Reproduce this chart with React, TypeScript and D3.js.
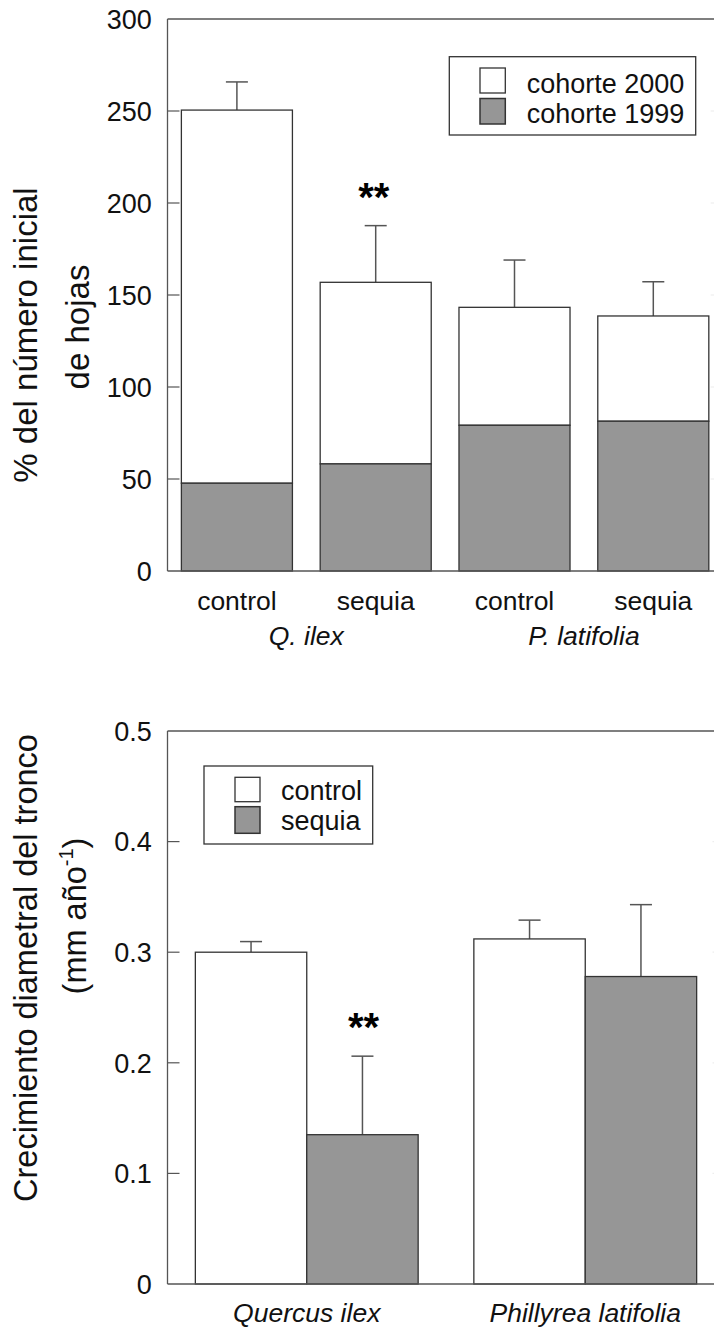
import React from 'react';
import * as d3 from 'd3';

// ---------- Data: top chart ----------
const topTreatments = ['control', 'sequia', 'control', 'sequia'];
const topSpecies = ['Q. ilex', 'P. latifolia'];
const cohorte1999 = [47.7, 58.2, 79.2, 81.4];
const cohorte2000 = [202.8, 98.7, 64.1, 57.2];
const topTotalSE = [15.3, 30.8, 25.7, 18.6];
const topTicks = [0, 50, 100, 150, 200, 250, 300];
const topSignif = ['', '**', '', ''];

// ---------- Data: bottom chart ----------
const bottomSpecies = ['Quercus ilex', 'Phillyrea latifolia'];
const bottomTreatments = ['control', 'sequia'];
const controlGrowth = [0.300, 0.312];
const sequiaGrowth = [0.135, 0.278];
const controlSE = [0.0096, 0.017];
const sequiaSE = [0.071, 0.065];
const bottomTicks = [0, 0.1, 0.2, 0.3, 0.4, 0.5];
const bottomSignif = ['**', ''];

const FONT = '"Liberation Sans", Arial, Helvetica, sans-serif';
const AXIS = '#555';
const BAR_STROKE = '#333';
const GRAY = '#969696';

export default function App() {
  const W = 714, H = 1327;

  // Top chart scales
  const tLeft = 167.5, tRight = 722.7, tTop = 19, tBottom = 571;
  const yT = d3.scaleLinear().domain([0, 300]).range([tBottom, tTop]);
  const xT = d3.scaleBand<number>().domain(d3.range(4)).range([tLeft, tRight]).paddingInner(0.2).paddingOuter(0.1);

  // Bottom chart scales
  const bLeft = 167.5, bRight = 724.5, bTop = 731, bBottom = 1284;
  const yB = d3.scaleLinear().domain([0, 0.5]).range([bBottom, bTop]);
  const xB = d3.scaleBand<number>().domain(d3.range(2)).range([bLeft, bRight]).paddingInner(0.2).paddingOuter(0.1);
  const xSub = d3.scaleBand<string>().domain(bottomTreatments).range([0, xB.bandwidth()]).padding(0);

  const cap = 11;
  const tickLen = 12;

  const bottomVals = [controlGrowth, sequiaGrowth];
  const bottomSEs = [controlSE, sequiaSE];

  return (
    <svg width={W} height={H} style={{ position: 'absolute', left: 0, top: 0, background: '#fff' }} fontFamily={FONT}>
      <rect x={0} y={0} width={W} height={H} fill="#fff" />

      {/* ===== TOP CHART ===== */}
      {topTreatments.map((t, i) => {
        const x0 = xT(i)!;
        const bw = xT.bandwidth();
        const total = cohorte1999[i] + cohorte2000[i];
        const cx = x0 + bw / 2;
        return (
          <g key={'tb' + i}>
            <line x1={cx} x2={cx} y1={yT(total)} y2={yT(total + topTotalSE[i])} stroke={AXIS} strokeWidth={1.5} />
            <line x1={cx - cap} x2={cx + cap} y1={yT(total + topTotalSE[i])} y2={yT(total + topTotalSE[i])} stroke={AXIS} strokeWidth={1.5} />
            <rect x={x0} y={yT(total)} width={bw} height={yT(cohorte1999[i]) - yT(total)} fill="#fff" stroke={BAR_STROKE} strokeWidth={1.3} />
            <rect x={x0} y={yT(cohorte1999[i])} width={bw} height={yT(0) - yT(cohorte1999[i])} fill={GRAY} stroke={BAR_STROKE} strokeWidth={1.3} />
            {topSignif[i] && (
              <text x={cx - 2} y={yT(total + topTotalSE[i]) - 15} textAnchor="middle" fontSize={40} fontWeight="bold" fill="#000">{topSignif[i]}</text>
            )}
            <text x={cx} y={610} textAnchor="middle" fontSize={26.5} fill="#111">{t}</text>
          </g>
        );
      })}
      {topSpecies.map((s, g) => {
        const cx = (xT(g * 2)! + xT(g * 2 + 1)! + xT.bandwidth()) / 2;
        return <text key={'ts' + g} x={cx} y={645} textAnchor="middle" fontSize={26.5} fontStyle="italic" fill="#111">{s}</text>;
      })}
      {/* frame */}
      <line x1={tLeft} x2={tRight} y1={tTop} y2={tTop} stroke={AXIS} strokeWidth={1.3} />
      <line x1={tLeft} x2={tRight} y1={tBottom} y2={tBottom} stroke={AXIS} strokeWidth={1.3} />
      <line x1={tLeft} x2={tLeft} y1={tTop} y2={tBottom} stroke={AXIS} strokeWidth={1.3} />
      <line x1={tRight} x2={tRight} y1={tTop} y2={tBottom} stroke={AXIS} strokeWidth={1.3} />
      {topTicks.map((v) => (
        <g key={'tt' + v}>
          {v !== 0 && v !== 300 && (
            <>
              <line x1={tLeft} x2={tLeft + tickLen} y1={yT(v)} y2={yT(v)} stroke={AXIS} strokeWidth={1.2} />
              <line x1={tRight} x2={tRight - tickLen} y1={yT(v)} y2={yT(v)} stroke="#eee" strokeWidth={1.2} />
            </>
          )}
          <text x={151.7} y={yT(v)} dy="0.36em" textAnchor="end" fontSize={27} fill="#111">{v}</text>
        </g>
      ))}
      {/* legend */}
      <rect x={449.3} y={56.7} width={246.4} height={78.3} fill="#fff" stroke={BAR_STROKE} strokeWidth={1.3} />
      <rect x={480} y={68} width={25.3} height={25} fill="#fff" stroke={BAR_STROKE} strokeWidth={1.3} />
      <rect x={480} y={98.5} width={25.3} height={25.5} fill={GRAY} stroke={BAR_STROKE} strokeWidth={1.5} />
      <text x={526.7} y={92.7} fontSize={27} fill="#111">cohorte 2000</text>
      <text x={526.7} y={122.7} fontSize={27} fill="#111">cohorte 1999</text>
      {/* y label */}
      <text transform="translate(37,335) rotate(-90)" textAnchor="middle" fontSize={33} fill="#111">% del número inicial</text>
      <text transform="translate(89,327) rotate(-90)" textAnchor="middle" fontSize={33} fill="#111">de hojas</text>

      {/* ===== BOTTOM CHART ===== */}
      {bottomSpecies.map((s, g) => {
        const gx = xB(g)!;
        return (
          <g key={'bg' + g}>
            {bottomTreatments.map((t, k) => {
              const v = bottomVals[k][g];
              const se = bottomSEs[k][g];
              const x0 = gx + xSub(t)!;
              const bw = xSub.bandwidth();
              const cx = x0 + bw / 2;
              return (
                <g key={'bb' + k}>
                  <line x1={cx} x2={cx} y1={yB(v)} y2={yB(v + se)} stroke={AXIS} strokeWidth={1.5} />
                  <line x1={cx - cap} x2={cx + cap} y1={yB(v + se)} y2={yB(v + se)} stroke={AXIS} strokeWidth={1.5} />
                  <rect x={x0} y={yB(v)} width={bw} height={yB(0) - yB(v)} fill={k === 0 ? '#fff' : GRAY} stroke={BAR_STROKE} strokeWidth={1.3} />
                  {k === 1 && bottomSignif[g] && (
                    <text x={cx + 1} y={yB(v + se) - 15} textAnchor="middle" fontSize={40} fontWeight="bold" fill="#000">{bottomSignif[g]}</text>
                  )}
                </g>
              );
            })}
            <text x={gx + xB.bandwidth() / 2} y={1321.7} textAnchor="middle" fontSize={26.5} fontStyle="italic" fill="#111">{s}</text>
          </g>
        );
      })}
      <line x1={bLeft} x2={bRight} y1={bTop} y2={bTop} stroke={AXIS} strokeWidth={1.3} />
      <line x1={bLeft} x2={bRight} y1={bBottom} y2={bBottom} stroke={AXIS} strokeWidth={1.3} />
      <line x1={bLeft} x2={bLeft} y1={bTop} y2={bBottom} stroke={AXIS} strokeWidth={1.3} />
      <line x1={bRight} x2={bRight} y1={bTop} y2={bBottom} stroke={AXIS} strokeWidth={1.3} />
      {bottomTicks.map((v, i) => (
        <g key={'bt' + i}>
          {i !== 0 && i !== bottomTicks.length - 1 && (
            <>
              <line x1={bLeft} x2={bLeft + tickLen} y1={yB(v)} y2={yB(v)} stroke={AXIS} strokeWidth={1.2} />
              <line x1={bRight} x2={bRight - tickLen} y1={yB(v)} y2={yB(v)} stroke="#eee" strokeWidth={1.2} />
            </>
          )}
          <text x={151.7} y={yB(v)} dy="0.36em" textAnchor="end" fontSize={27} fill="#111">{v === 0 ? '0' : d3.format('.1f')(v)}</text>
        </g>
      ))}
      {/* legend */}
      <rect x={204} y={766} width={168.7} height={78} fill="#fff" stroke={BAR_STROKE} strokeWidth={1.3} />
      <rect x={235} y={777.3} width={25} height={24.4} fill="#fff" stroke={BAR_STROKE} strokeWidth={1.3} />
      <rect x={235} y={806.7} width={25} height={26.6} fill={GRAY} stroke={BAR_STROKE} strokeWidth={1.5} />
      <text x={281} y={800} fontSize={27} fill="#111">control</text>
      <text x={281} y={829.5} fontSize={27} fill="#111">sequia</text>
      {/* y label */}
      <text transform="translate(37,968) rotate(-90)" textAnchor="middle" fontSize={32.5} fill="#111">Crecimiento diametral del tronco</text>
      <text transform="translate(86,916) rotate(-90)" textAnchor="middle" fontSize={32.5} fill="#111">
        (mm año<tspan fontSize={20} dy={-13}>-1</tspan><tspan dy={13}>)</tspan>
      </text>
    </svg>
  );
}
